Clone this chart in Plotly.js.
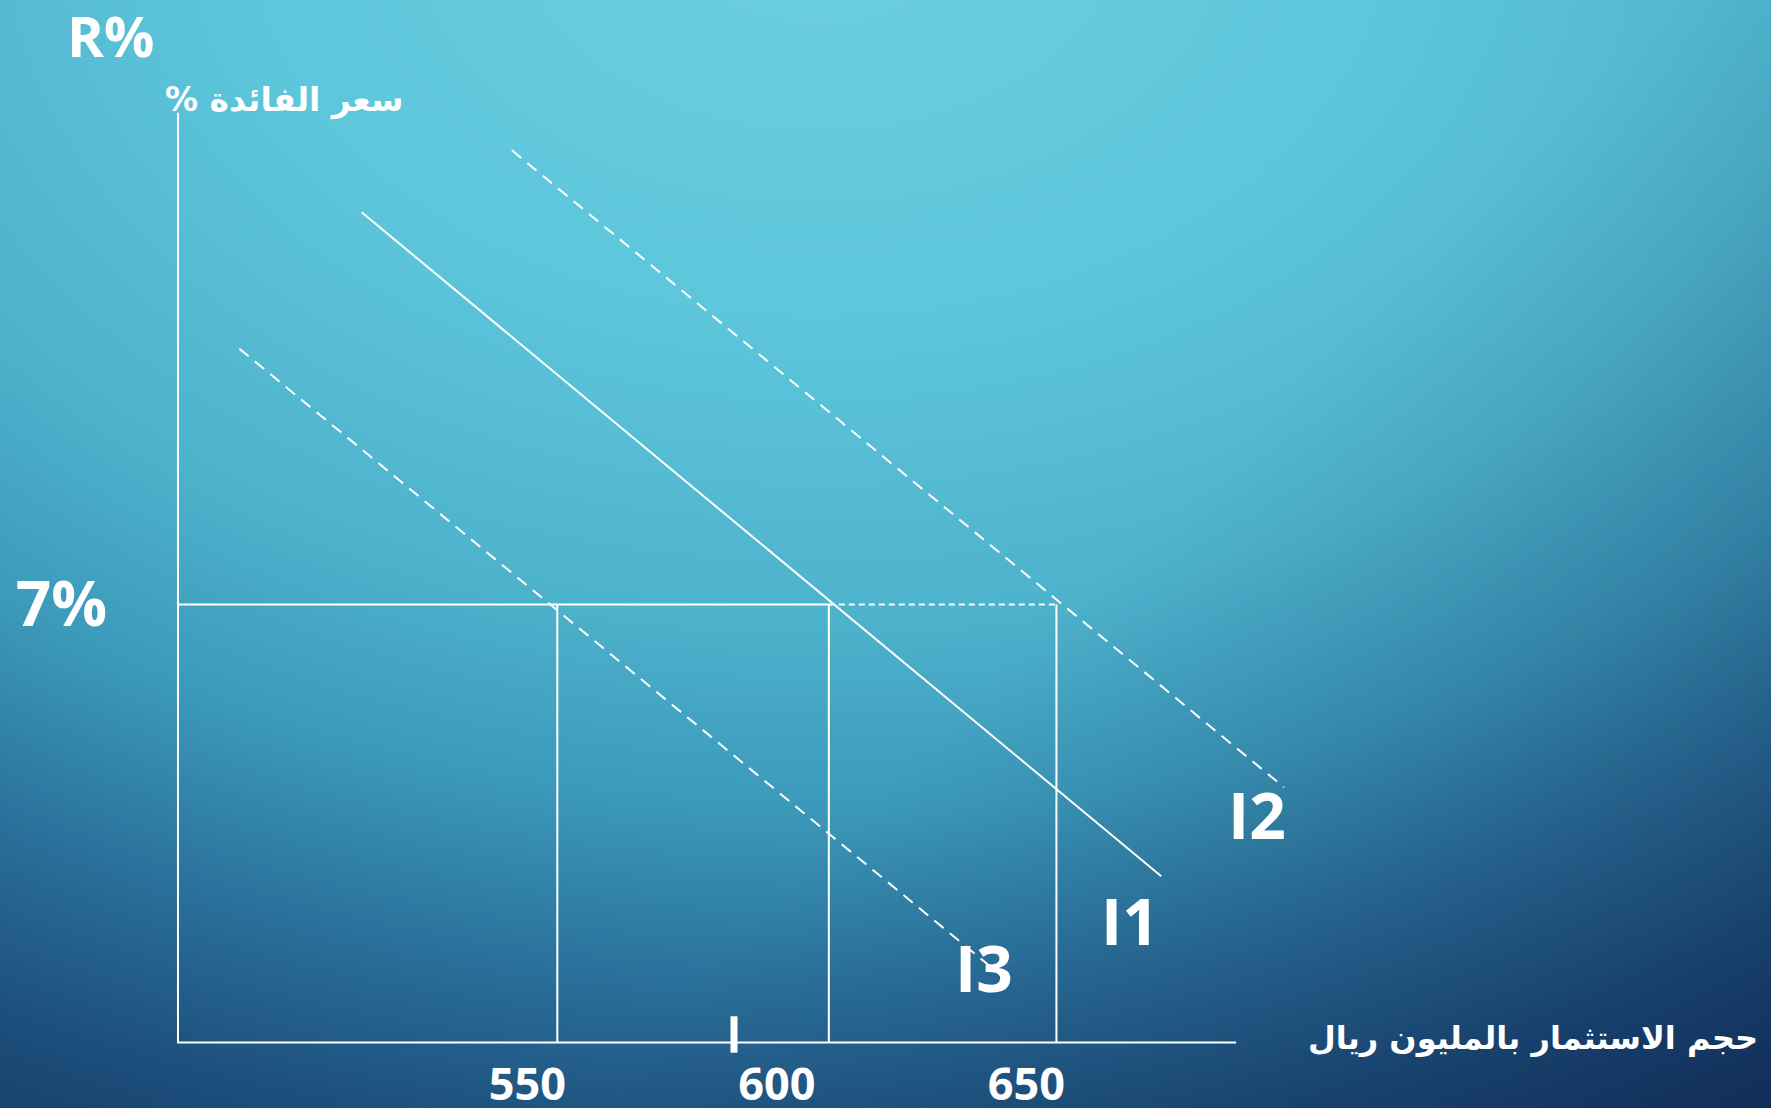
<!DOCTYPE html>
<html>
<head>
<meta charset="utf-8">
<script src="https://cdn.plot.ly/plotly-3.0.1.min.js"></script>
<style>
  html, body { margin: 0; padding: 0; width: 1771px; height: 1108px; overflow: hidden; }
  body {
    background:
      linear-gradient(135deg, rgba(0,0,0,0) 58%, rgba(8,18,60,0.35) 100%),
      radial-gradient(ellipse 1950px 1350px at 820px -80px, #6ccfe0 0%, #5dc6db 30%, #4db2cc 52%, #3b98b9 66%, #2a709a 79%, #1d4f7c 91%, #163d69 100%);
  }
  #chart { width: 1771px; height: 1108px; }
</style>
</head>
<body>
<div id="chart"></div>
<script>
// ---- data ----
const xTickVals = [550, 600, 650];
const xTickText = ['550', '600', '650'];
const yTickVals = [7];
const yTickText = ['7%'];
const rate = 7;                         // interest rate level (%)
const investLevels = [550, 604.4, 650]; // investment at 7% on I3, I1, I2
const axisOriginX = 474, axisEndX = 686, axisTopY = 14.86;

const i1X = [510.8, 671.0], i1Y = [13.27, 2.66];
const i2X = [540.9, 695.6], i2Y = [14.26, 4.08];
const i3X = [486.3, 640.8], i3Y = [11.09, 0.95];

const curveNames = ['I1', 'I2', 'I3'];
const labelX = [664.7, 690.2, 635.5];
const labelY = [1.95, 3.65, 1.2];

const strayMarkX = [585.4], strayMarkY = [0.13];

const yTitle = 'R%';
const yTitle2 = 'سعر الفائدة %\u200F';
const xTitle = 'حجم الاستثمار بالمليون ريال';

// ---- traces ----
const W = '#ffffff';
const traces = [];
traces.push({x: [axisOriginX, axisOriginX, axisEndX], y: [axisTopY, 0, 0], mode: 'lines',
  line: {color: W, width: 2}, hoverinfo: 'skip'});
traces.push({x: [axisOriginX, investLevels[1]], y: [rate, rate], mode: 'lines',
  line: {color: W, width: 2}, hoverinfo: 'skip'});
traces.push({x: [investLevels[1], investLevels[2]], y: [rate, rate], mode: 'lines',
  line: {color: W, width: 2, dash: '6px,4px'}, hoverinfo: 'skip'});
const vx = [], vy = [];
investLevels.forEach(v => { vx.push(v, v, null); vy.push(rate, 0, null); });
traces.push({x: vx, y: vy, mode: 'lines', line: {color: W, width: 2}, hoverinfo: 'skip'});
traces.push({x: i1X, y: i1Y, mode: 'lines', line: {color: W, width: 2}, name: 'I1'});
traces.push({x: i2X, y: i2Y, mode: 'lines', line: {color: W, width: 2, dash: '12px,8px'}, name: 'I2'});
traces.push({x: i3X, y: i3Y, mode: 'lines', line: {color: W, width: 2, dash: '12px,8px'}, name: 'I3'});
traces.push({x: strayMarkX, y: strayMarkY, mode: 'markers', cliponaxis: false,
  marker: {symbol: 'line-ns', size: 26, color: W, line: {color: W, width: 7}}, hoverinfo: 'skip'});

const M = {l: 168, r: 470, t: 104, b: 56};
const PW = 1771 - M.l - M.r, PH = 1108 - M.t - M.b;
const bigFont = {family: 'Open Sans, Lato, sans-serif', color: W, weight: 700};
const annotations = curveNames.map((n, i) => ({
  x: labelX[i], y: labelY[i], xref: 'x', yref: 'y', text: n, showarrow: false,
  xanchor: 'center', yanchor: 'middle',
  font: Object.assign({}, bigFont, {size: 64})
}));
function paperAnn(px, py, text, font) {
  return {x: (px - M.l) / PW, y: (1108 - M.b - py) / PH, xref: 'paper', yref: 'paper',
    text: text, showarrow: false, xanchor: 'center', yanchor: 'middle', font: font};
}
annotations.push(paperAnn(110, 35, yTitle, Object.assign({}, bigFont, {size: 56})));
annotations.push(paperAnn(284, 100, yTitle2, {family: 'DejaVu Sans, sans-serif', color: W, size: 33, weight: 700}));
annotations.push(paperAnn(1533, 1038, xTitle, {family: 'DejaVu Sans, sans-serif', color: W, size: 32, weight: 700}));

const layout = {
  width: 1771, height: 1108,
  margin: {l: M.l, r: M.r, t: M.t, b: M.b, pad: 0},
  paper_bgcolor: 'rgba(0,0,0,0)', plot_bgcolor: 'rgba(0,0,0,0)',
  showlegend: false,
  xaxis: {range: [472, 699], showgrid: false, zeroline: false, showline: false,
    tickvals: xTickVals, ticktext: xTickText, ticks: '', ticklabelshift: -30, ticklabelstandoff: 2,
    tickfont: Object.assign({}, bigFont, {size: 45}), fixedrange: true},
  yaxis: {range: [-0.15, 15.0], showgrid: false, zeroline: false, showline: false,
    tickvals: yTickVals, ticktext: yTickText, ticks: '', ticklabelstandoff: 60,
    tickfont: Object.assign({}, bigFont, {size: 62}), fixedrange: true},
  annotations: annotations
};

Plotly.newPlot('chart', traces, layout, {displayModeBar: false, staticPlot: true});
</script>
</body>
</html>
